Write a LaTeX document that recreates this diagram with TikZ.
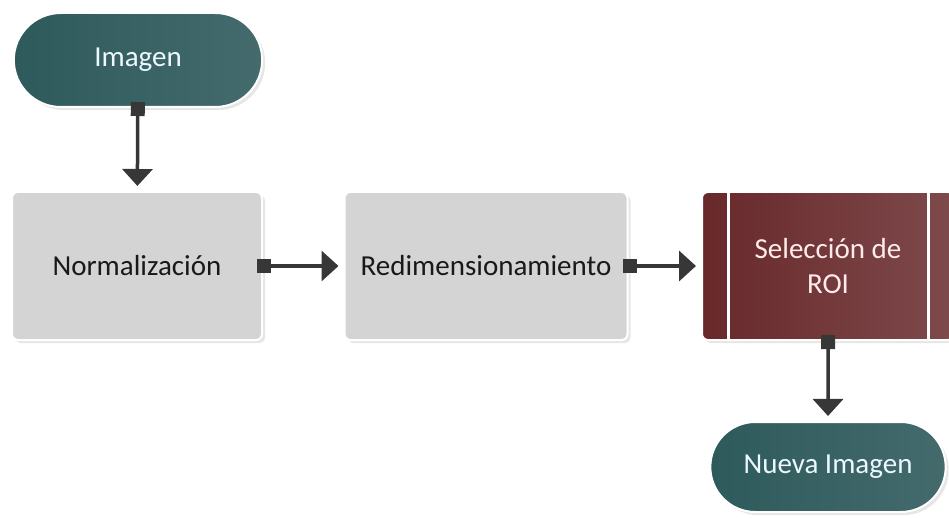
\documentclass[tikz,border=0pt]{standalone}
\usepackage{fontspec}
\setmainfont{Carlito}
\usetikzlibrary{arrows.meta,shadows,shapes.misc}
\definecolor{termdark}{RGB}{46,90,92}
\definecolor{termlight}{RGB}{68,106,108}
\definecolor{boxgray}{RGB}{212,212,212}
\definecolor{roidark}{RGB}{104,40,42}
\definecolor{roilight}{RGB}{126,74,76}
\definecolor{flowgray}{RGB}{55,55,55}
\begin{document}
\begin{tikzpicture}[x=1pt,y=-1pt,
  terminal/.style={rounded rectangle,draw=white,line width=2pt,left color=termdark,right color=termlight,
    text=white!92!cyan,font=\fontsize{29}{35}\selectfont,minimum height=94pt,
    drop shadow={opacity=0.2,shadow xshift=3pt,shadow yshift=-3pt}},
  procbox/.style={rectangle,rounded corners=6pt,draw=white,line width=2pt,fill=boxgray,
    text=black!90,font=\fontsize{29}{35}\selectfont,minimum height=148pt,
    drop shadow={opacity=0.2,shadow xshift=3pt,shadow yshift=-3pt}},
  flow/.style={{Square[length=14pt,width=14pt]}-{Triangle[length=17pt,width=30pt]},
    line width=3.5pt,color=flowgray,shorten <=-6pt,shorten >=5pt}]
\useasboundingbox (0,0) rectangle (949,518);
\node[terminal,minimum width=255pt] (imagen) at (138,60) {Imagen};
\node[procbox,minimum width=250pt] (norm) at (137,266) {Normalización};
\node[procbox,minimum width=283pt] (redim) at (486,266) {Redimensionamiento};
\node[procbox,minimum width=252pt,fill=none,left color=roidark,right color=roilight,
  text=white!92!red,align=center] (roi) at (828,266) {Selección de\\ROI};
\draw[white,line width=3pt] ([xshift=27pt]roi.north west) -- ([xshift=27pt]roi.south west);
\draw[white,line width=3pt] ([xshift=-27pt]roi.north east) -- ([xshift=-27pt]roi.south east);
\node[terminal,minimum width=242pt,minimum height=90pt] (nueva) at (828,467) {Nueva Imagen};
\draw[flow] (imagen) -- (norm);
\draw[flow] (norm) -- (redim);
\draw[flow] (redim) -- (roi);
\draw[flow] (roi) -- (nueva);
\end{tikzpicture}
\end{document}
